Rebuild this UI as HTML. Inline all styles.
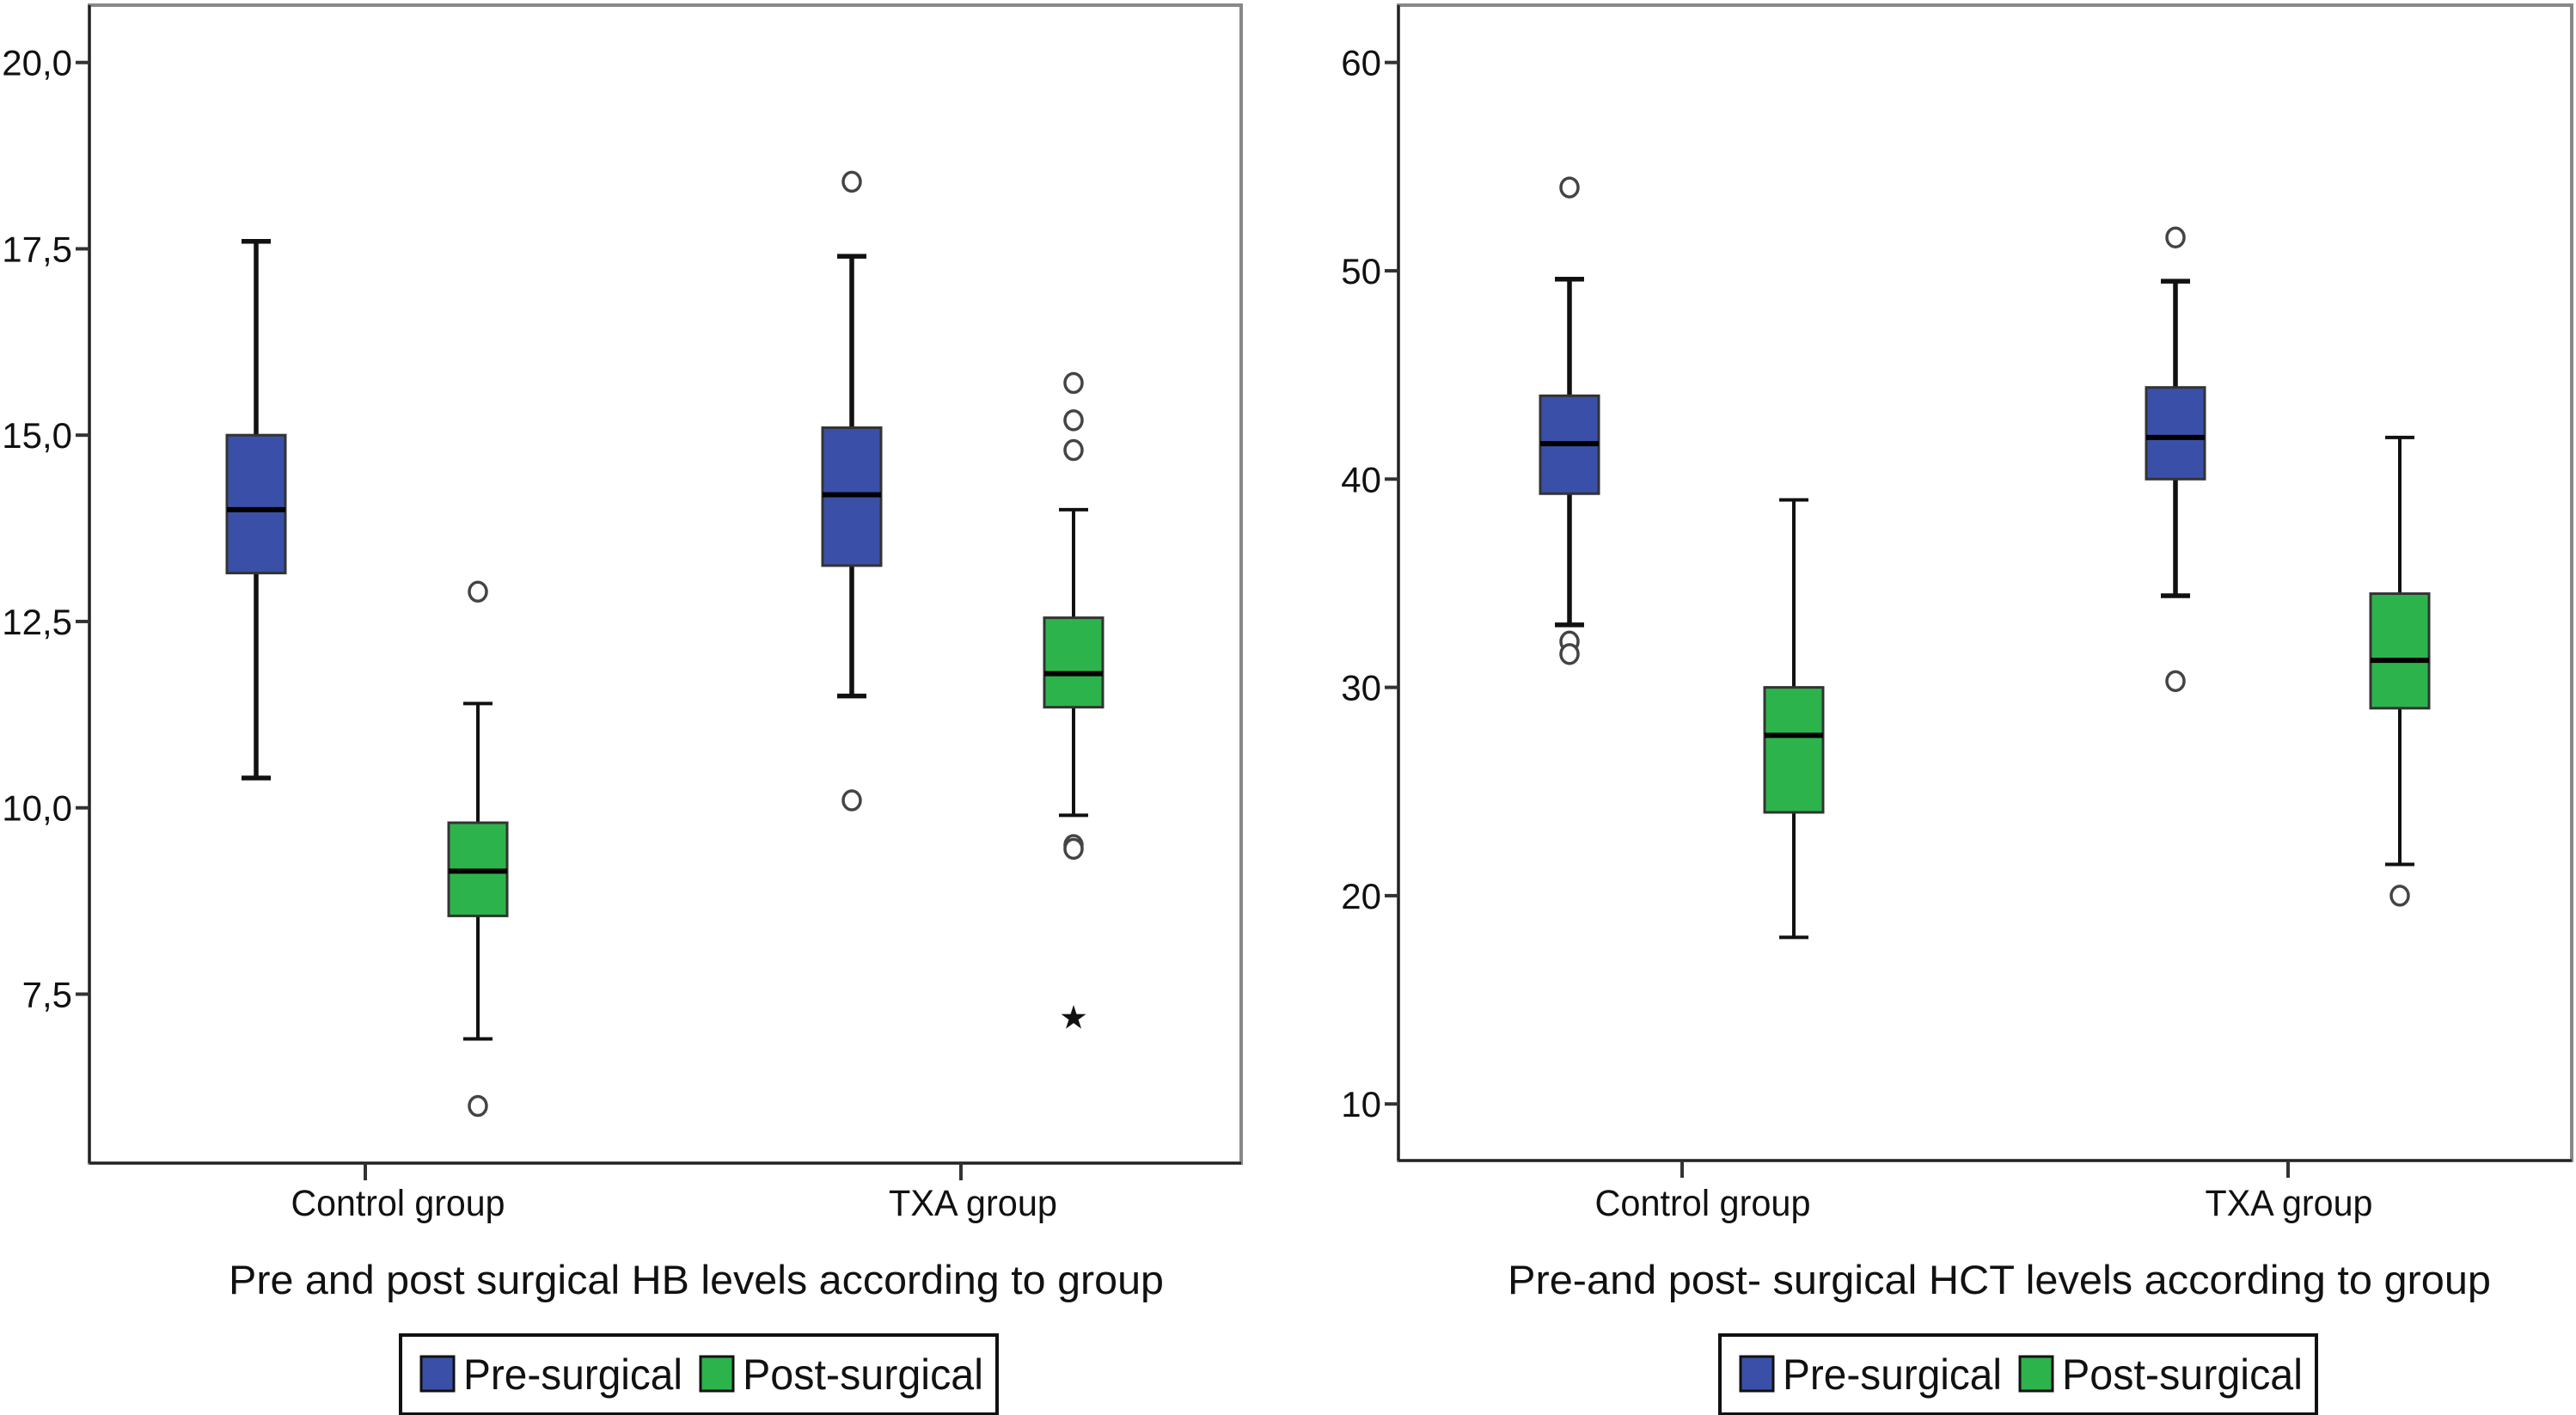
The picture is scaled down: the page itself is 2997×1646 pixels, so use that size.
<!DOCTYPE html>
<html><head><meta charset="utf-8"><style>
html,body{margin:0;padding:0;background:#fff}
svg{display:block;font-family:"Liberation Sans",Arial,sans-serif}
</style></head><body>
<svg id="chart" width="2997" height="1646" viewBox="0 0 2997 1646" xmlns="http://www.w3.org/2000/svg"></svg>
<script>
// ---- data ----
const categories = ["Control group", "TXA group"];
const seriesNames = ["Pre-surgical", "Post-surgical"];
// HB panel: [whiskerLow, q1, median, q3, whiskerHigh]
const hbPre = [[10.4, 13.15, 14.0, 15.0, 17.6], [11.5, 13.25, 14.2, 15.1, 17.4]];
const hbPost = [[6.9, 8.55, 9.15, 9.8, 11.4], [9.9, 11.35, 11.8, 12.55, 14.0]];
const hbPreOutliers = [[], [18.4, 10.1]];
const hbPostOutliers = [[12.9, 6.0], [15.7, 15.2, 14.8, 9.5, 9.45]];
const hbPostExtremes = [[], [7.2]];
const hbTicks = [20.0, 17.5, 15.0, 12.5, 10.0, 7.5];
const hbTickLabels = ["20,0", "17,5", "15,0", "12,5", "10,0", "7,5"];
// HCT panel
const hctPre = [[33, 39.3, 41.7, 44.0, 49.6], [34.4, 40.0, 42.0, 44.4, 49.5]];
const hctPost = [[18, 24.0, 27.7, 30.0, 39.0], [21.5, 29.0, 31.3, 34.5, 42.0]];
const hctPreOutliers = [[54, 32.2, 31.6], [51.6, 30.3]];
const hctPostOutliers = [[], [20]];
const hctPostExtremes = [[], []];
const hctTicks = [60, 50, 40, 30, 20, 10];
const hctTickLabels = ["60", "50", "40", "30", "20", "10"];

const NS = "http://www.w3.org/2000/svg";
const svg = document.getElementById("chart");
function mk(tag, attrs, parent) {
  const e = document.createElementNS(NS, tag);
  for (const k in attrs) e.setAttribute(k, attrs[k]);
  (parent || svg).appendChild(e);
  return e;
}
const BLUE = "#3a50a8", GREEN = "#2db34b";

function panel(cfg) {
  const g = mk("g", {});
  
  
  const {x0, x1, y0, y1} = cfg.box;
  const y = v => cfg.yTop + (cfg.vTop - v) * cfg.pxPerUnit;
  const xc = i => cfg.catX[i];
  const frame = mk("rect", {x: x0, y: y0, width: x1 - x0, height: y1 - y0, fill: "none", stroke: "#888", "stroke-width": 4}, g);
  
  
  mk("line", {x1: x0, y1: y0, x2: x0, y2: y1, stroke: "#222", "stroke-width": 3}, g);
  mk("line", {x1: x0, y1: y1, x2: x1, y2: y1, stroke: "#222", "stroke-width": 3}, g);
  cfg.ticks.forEach((t, i) => {
    const ty = y(t);
    mk("line", {x1: x0 - 16, y1: ty, x2: x0, y2: ty, stroke: "#333", "stroke-width": 4}, g);
    const lbl = cfg.tickLabels[i];
    const tx = mk("text", {x: x0 - 20, y: ty + 15, "text-anchor": "end", "font-size": 42, fill: "#111"}, g);
    tx.textContent = lbl;
    
    
  });
  categories.forEach((c, i) => {
    mk("line", {x1: xc(i), y1: y1, x2: xc(i), y2: y1 + 20, stroke: "#333", "stroke-width": 4}, g);
    const tx = mk("text", {x: cfg.labelX[i], y: 1414, "text-anchor": "middle", "font-size": 43, fill: "#111",
      textLength: cfg.labelW[i], lengthAdjust: "spacingAndGlyphs"}, g);
    tx.textContent = c;
    
    
  });
  const series = [[cfg.pre, cfg.preOut, [[], []], BLUE, cfg.offPre, 5.5], [cfg.post, cfg.postOut, cfg.postExt, GREEN, cfg.offPost, 4]];
  series.forEach(([stats, outs, exts, col, off, sw], si) => {
    stats.forEach((s, i) => {
      const cx = xc(i) + off, hw = 34, cap = 17;
      const bg = mk("g", {}, g);
      
      
      mk("line", {x1: cx, y1: y(s[0]), x2: cx, y2: y(s[1]), stroke: "#111", "stroke-width": sw}, bg);
      mk("line", {x1: cx, y1: y(s[3]), x2: cx, y2: y(s[4]), stroke: "#111", "stroke-width": sw}, bg);
      mk("line", {x1: cx - cap, y1: y(s[0]), x2: cx + cap, y2: y(s[0]), stroke: "#111", "stroke-width": sw}, bg);
      mk("line", {x1: cx - cap, y1: y(s[4]), x2: cx + cap, y2: y(s[4]), stroke: "#111", "stroke-width": sw}, bg);
      mk("rect", {x: cx - hw, y: y(s[3]), width: hw * 2, height: y(s[1]) - y(s[3]), fill: col, stroke: "#333", "stroke-width": 3}, bg);
      mk("line", {x1: cx - hw, y1: y(s[2]), x2: cx + hw, y2: y(s[2]), stroke: "#000", "stroke-width": 6}, bg);
      (outs[i] || []).forEach(v => {
        const o = mk("ellipse", {cx: cx, cy: y(v), rx: 10, ry: 11, fill: "#fff", stroke: "#444", "stroke-width": 3.5}, g);
        
        
      });
      (exts[i] || []).forEach(v => {
        const o = mk("text", {x: cx, y: y(v) + 14, "text-anchor": "middle", "font-size": 38, fill: "#111"}, g);
        o.textContent = "★";
        
        
      });
    });
  });
  const title = mk("text", {x: cfg.titleX, y: 1505, "text-anchor": "middle", "font-size": 47, fill: "#111",
    textLength: cfg.titleW, lengthAdjust: "spacingAndGlyphs"}, g);
  title.textContent = cfg.title;
  
  
  const lg = mk("g", {}, g);
  
  
  const lx = cfg.legendX;
  mk("rect", {x: lx, y: 1553, width: 694, height: 92, fill: "#fff", stroke: "#111", "stroke-width": 4}, lg);
  const items = [[BLUE, seriesNames[0], lx + 24, 255], [GREEN, seriesNames[1], lx + 349, 280]];
  items.forEach(([c, n, ix, w]) => {
    const e = mk("g", {}, lg);
    
    
    mk("rect", {x: ix, y: 1578, width: 38, height: 40, fill: c, stroke: "#111", "stroke-width": 3}, e);
    const t = mk("text", {x: ix + 49, y: 1616, "font-size": 50, fill: "#111", textLength: w, lengthAdjust: "spacingAndGlyphs"}, e);
    t.textContent = n;
  });
}

panel({name: "hb-panel", box: {x0: 104, x1: 1444, y0: 6, y1: 1353}, yTop: 72.7, vTop: 20, pxPerUnit: 86.7,
  catX: [425, 1118], offPre: -127, offPost: 131, labelX: [463, 1132], labelW: [249, 196],
  pre: hbPre, post: hbPost, preOut: hbPreOutliers, postOut: hbPostOutliers, postExt: hbPostExtremes,
  ticks: hbTicks, tickLabels: hbTickLabels, title: "Pre and post surgical HB levels according to group", titleX: 810, titleW: 1088, legendX: 466});
panel({name: "hct-panel", box: {x0: 1627, x1: 2992, y0: 6, y1: 1350}, yTop: 72.7, vTop: 60, pxPerUnit: 24.23,
  catX: [1957, 2662], offPre: -131, offPost: 130, labelX: [1981, 2663], labelW: [251, 195],
  pre: hctPre, post: hctPost, preOut: hctPreOutliers, postOut: hctPostOutliers, postExt: hctPostExtremes,
  ticks: hctTicks, tickLabels: hctTickLabels, title: "Pre-and post- surgical HCT levels according to group", titleX: 2326, titleW: 1144, legendX: 2001});
</script>
</body></html>
